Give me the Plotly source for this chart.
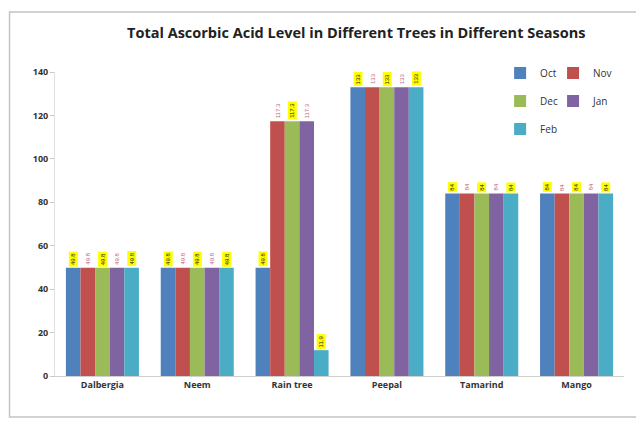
import plotly.graph_objects as go

trees = ["Dalbergia", "Neem", "Rain tree", "Peepal", "Tamarind", "Mango"]
months = ["Oct", "Nov", "Dec", "Jan", "Feb"]
oct_vals = [49.8, 49.8, 49.8, 133.0, 84.0, 84.0]
nov_vals = [49.8, 49.8, 117.3, 133.0, 84.0, 84.0]
dec_vals = [49.8, 49.8, 117.3, 133.0, 84.0, 84.0]
jan_vals = [49.8, 49.8, 117.3, 133.0, 84.0, 84.0]
feb_vals = [49.8, 49.8, 11.9, 133.0, 84.0, 84.0]
series = [oct_vals, nov_vals, dec_vals, jan_vals, feb_vals]
colors = ["#4F81BD", "#C0504D", "#9BBB59", "#8064A2", "#4BACC6"]
y_ticks = [0, 20, 40, 60, 80, 100, 120, 140]

W, H = 636, 427
L, R, T, B = 54.5, 636 - 624, 72, 427 - 376
pw, ph = W - L - R, H - T - B

def px_x(p):
    return (p - L) / pw

def px_y(p):
    return (H - B - p) / ph

fig = go.Figure()
legend_pos = [(500, 73), (553, 73), (500, 101), (553, 101), (500, 129)]
for k, (m, vals, c) in enumerate(zip(months, series, colors)):
    lname = "legend" if k == 0 else f"legend{k+1}"
    fig.add_trace(go.Bar(name=m, x=trees, y=vals, marker=dict(color=c, line=dict(width=0)),
                         legend=lname))

bargap = 0.23
bw = (1 - bargap) / 5
annotations = []
for k, vals in enumerate(series):
    hl = k in (0, 2, 4)
    for i, v in enumerate(vals):
        annotations.append(dict(
            x=i + (k - 2) * bw, y=v, xref="x", yref="y",
            text=f"{v:g}", textangle=-90, showarrow=False,
            xanchor="center", yanchor="bottom", yshift=1,
            font=dict(size=6, color="#222222" if hl else "#c0607a", family="Liberation Sans"),
            bgcolor="#ffff00" if hl else "rgba(0,0,0,0)", borderpad=1,
        ))

layout_legends = {}
for k, (lx, ly) in enumerate(legend_pos):
    lname = "legend" if k == 0 else f"legend{k+1}"
    layout_legends[lname] = dict(
        x=px_x(lx), y=px_y(ly), xanchor="left", yanchor="middle",
        bgcolor="rgba(0,0,0,0)", font=dict(size=10, color="#333333", family="Open Sans"),
        itemwidth=30,
    )

fig.update_layout(
    width=W, height=H,
    margin=dict(l=L, r=R, t=T, b=B),
    paper_bgcolor="white", plot_bgcolor="white",
    barmode="group", bargap=bargap, bargroupgap=0,
    showlegend=True,
    title=dict(text="Total Ascorbic Acid Level in Different Trees in Different Seasons",
               x=px_x(356), xref="paper", xanchor="center",
               y=1 - 33 / H, yref="container", yanchor="middle",
               font=dict(size=14.5, color="#222222", family="Open Sans", weight="bold")),
    xaxis=dict(showgrid=False, showline=True, linecolor="#d0d0d0", ticks="",
               tickfont=dict(size=9, color="#333333", family="Open Sans", weight="bold")),
    yaxis=dict(range=[0, 140], tickvals=y_ticks, showgrid=False, zeroline=False,
               showline=True, linecolor="#e0e0e0", ticks="outside", ticklen=4,
               tickcolor="#c8c8c8",
               tickfont=dict(size=9, color="#333333", family="Open Sans", weight="bold")),
    annotations=annotations,
    shapes=[dict(type="rect", xref="paper", yref="paper",
                 x0=px_x(9), x1=px_x(645), y0=px_y(417), y1=px_y(12),
                 line=dict(color="#c4c4c4", width=1.5), layer="below")],
    **layout_legends,
)

fig.write_html("out.html")
